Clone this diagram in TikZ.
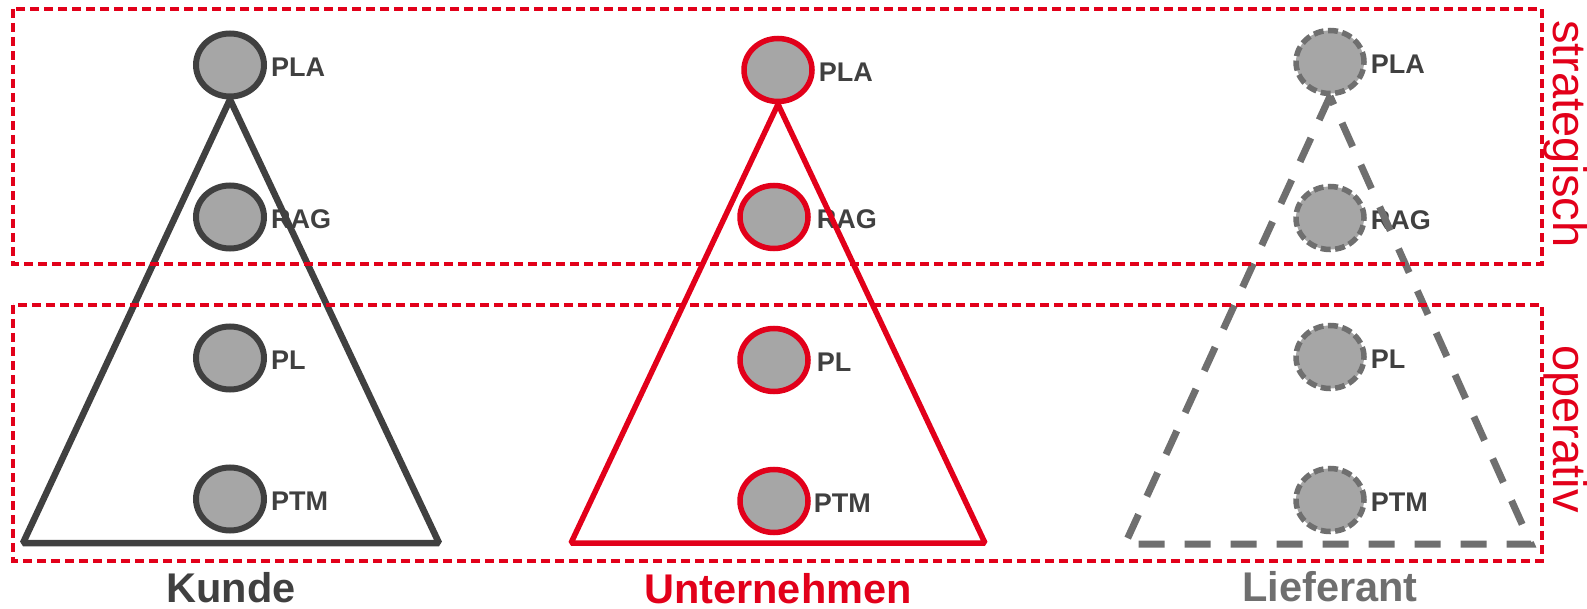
\documentclass[tikz,border=0pt]{standalone}
\usepackage{fontspec}
\setmainfont{Liberation Sans}
\usepackage{xcolor}
\usepackage{tikz}
\usetikzlibrary{shapes,positioning,calc}

\definecolor{dbred}{HTML}{E2001A}
\definecolor{kgray}{HTML}{404040}
\definecolor{lgray}{HTML}{6F6F6F}
\definecolor{fgray}{HTML}{A6A6A6}

\begin{document}
\begin{tikzpicture}[x=1pt, y=-1pt,
    person/.style={ellipse, fill=fgray, minimum width=68pt, minimum height=63pt, inner sep=0pt},
    kunde/.style={person, draw=kgray, line width=6pt},
    firma/.style={person, draw=dbred, line width=5.5pt},
    liefer/.style={person, draw=lgray, line width=5.5pt, dash pattern=on 10pt off 4.5pt},
    role/.style={font=\fontsize{27}{32}\selectfont\bfseries, text=kgray, inner sep=0pt},
    party/.style={font=\fontsize{41.5}{48}\selectfont\bfseries, anchor=base},
    side/.style={font=\fontsize{47}{54}\selectfont, text=dbred, rotate=-90, anchor=base},
    level/.style={draw=dbred, line width=3.5pt, dash pattern=on 9pt off 5pt}]

    \useasboundingbox (0,0) rectangle (1587,609);

    % Left side - Kunde
    \node[kunde] (kpla) at (230,65) {};
    \node[role, right=4pt of kpla, yshift=-2pt] (kplal) {PLA};
    \node[kunde] (krag) at (230,217) {};
    \node[role, right=4pt of krag, yshift=-2pt] (kragl) {RAG};
    \node[kunde] (kpl) at (230,358) {};
    \node[role, right=4pt of kpl, yshift=-2pt] (kpll) {PL};
    \node[kunde] (kptm) at (230,499) {};
    \node[role, right=4pt of kptm, yshift=-2pt] (kptml) {PTM};
    \node[party, text=kgray] (kunde) at (231,602) {Kunde};

    % Middle - Unternehmen
    \node[firma] (upla) at (778,70) {};
    \node[role, right=4pt of upla, yshift=-2pt] (uplal) {PLA};
    \node[firma] (urag) at (774,217) {};
    \node[role, right=6pt of urag, yshift=-2pt] (uragl) {RAG};
    \node[firma] (upl) at (774,360) {};
    \node[role, right=6pt of upl, yshift=-2pt] (upll) {PL};
    \node[firma] (uptm) at (774,501) {};
    \node[role, right=3pt of uptm, yshift=-2pt] (uptml) {PTM};
    \node[party, text=dbred] (firma) at (778,603) {Unternehmen};

    % Right side - Lieferant
    \node[liefer] (lpla) at (1330,62) {};
    \node[role, right=4pt of lpla, yshift=-2pt] (lplal) {PLA};
    \node[liefer] (lrag) at (1330,218) {};
    \node[role, right=4pt of lrag, yshift=-2pt] (lragl) {RAG};
    \node[liefer] (lpl) at (1330,357) {};
    \node[role, right=4pt of lpl, yshift=-2pt] (lpll) {PL};
    \node[liefer] (lptm) at (1330,500) {};
    \node[role, right=4pt of lptm, yshift=-2pt] (lptml) {PTM};
    \node[party, text=lgray] (liefer) at (1330,601) {Lieferant};

    % Triangles
    \coordinate (kleft) at (23,543);
    \coordinate (kright) at (439,543);
    \coordinate (uleft) at (571,543);
    \coordinate (uright) at (985,543);
    \coordinate (lleft) at (1125,544);
    \coordinate (lright) at (1531,544);
    \draw[kgray, line width=6.5pt, line join=bevel] (kpla.south) -- (kleft) -- (kright) -- cycle;
    \draw[dbred, line width=5.5pt, line join=bevel] (upla.south) -- (uleft) -- (uright) -- cycle;
    \draw[lgray, line width=7pt, dash pattern=on 26pt off 20pt] (lpla.south) -- (lleft) -- (lright) -- cycle;

    % Levels
    \draw[level] (13,9) rectangle (1542,264);
    \draw[level] (13,305) rectangle (1542,561);
    \node[side] (strat) at (1553,134) {strategisch};
    \node[side] (oper) at (1553,429) {operativ};

\end{tikzpicture}
\end{document}
